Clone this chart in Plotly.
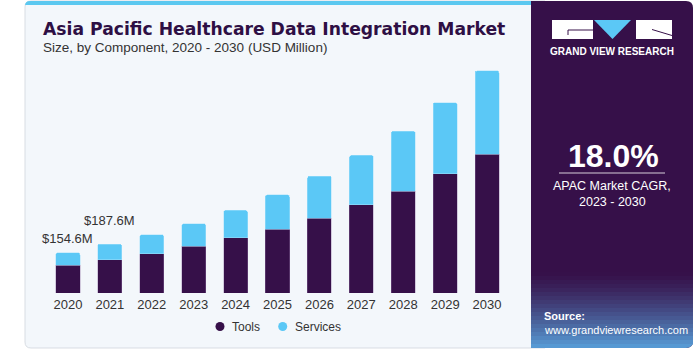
import plotly.graph_objects as go

years = [str(y) for y in range(2020, 2031)]
tools = [105.8, 127.5, 149.4, 178.5, 210.7, 245.0, 287.0, 338.0, 389.0, 456.0, 532.0]
services = [48.8, 60.1, 73.9, 86.9, 105.7, 131.5, 161.0, 189.0, 231.0, 273.0, 319.0]
series_names = ["Tools", "Services"]
label_years = ["2020", "2021"]
label_texts = ["$154.6M", "$187.6M"]
label_shift = [5, 14]

W, H = 700, 349
L, R, T, B = 47, 192, 60, 56
PW, PH = W - L - R, H - T - B
M_PER_PX = 3.83


def px(x):
    return (x - L) / PW


def py(y):
    return (H - B - y) / PH


def rrect(x0, y0, x1, y1, rtl=0, rtr=0, rbr=0, rbl=0):
    def p(x, y):
        return f"{px(x):.5f},{py(y):.5f}"
    s = f"M {p(x0 + rtl, y0)} L {p(x1 - rtr, y0)} "
    if rtr:
        s += f"Q {p(x1, y0)} {p(x1, y0 + rtr)} "
    s += f"L {p(x1, y1 - rbr)} "
    if rbr:
        s += f"Q {p(x1, y1)} {p(x1 - rbr, y1)} "
    s += f"L {p(x0 + rbl, y1)} "
    if rbl:
        s += f"Q {p(x0, y1)} {p(x0, y1 - rbl)} "
    s += f"L {p(x0, y0 + rtl)} "
    if rtl:
        s += f"Q {p(x0, y0)} {p(x0 + rtl, y0)} "
    return s + "Z"


PURPLE = "#361049"
BLUE = "#5bc8f6"
FONT = "Liberation Sans, Arial, sans-serif"
colors = [PURPLE, BLUE]

fig = go.Figure()
fig.add_trace(go.Bar(x=years, y=tools, name=series_names[0],
                     marker=dict(color=PURPLE, line=dict(color="rgba(150,120,170,0.6)", width=0.6))))
fig.add_trace(go.Bar(x=years, y=services, name=series_names[1],
                     marker=dict(color=BLUE, line=dict(color="rgba(170,225,250,0.8)", width=0.6))))

shapes = []
# card
shapes.append(dict(type="path", xref="paper", yref="paper", path=rrect(25, 1, 545, 348, 6, 0, 0, 6),
                   fillcolor="#f3f7fb", line=dict(color="#d8dde3", width=1), layer="below"))
# top blue stripe
shapes.append(dict(type="path", xref="paper", yref="paper", path=rrect(25, 1, 545, 5, 5, 0, 0, 0),
                   fillcolor="#5bc8f0", line=dict(width=0), layer="below"))
# right panel
shapes.append(dict(type="path", xref="paper", yref="paper", path=rrect(531, 1, 693, 348, 0, 7, 7, 0),
                   fillcolor=PURPLE, line=dict(width=0), layer="below"))
# bottom gradient of panel
c0 = (0x36, 0x10, 0x49)
c1 = (0x58, 0x9e, 0xd8)
y_start, y_end = 272, 348
n = 19
step = (y_end - y_start) / n
for i in range(n):
    t = (i + 0.5) / n
    t = t ** 1.3
    col = tuple(int(c0[k] + (c1[k] - c0[k]) * t) for k in range(3))
    ya = y_start + i * step
    yb = ya + step + 0.6
    if i == n - 1:
        shapes.append(dict(type="path", xref="paper", yref="paper", path=rrect(531, ya, 693, 348, 0, 0, 7, 0),
                           fillcolor="rgb(%d,%d,%d)" % col, line=dict(width=0), layer="below"))
    else:
        shapes.append(dict(type="rect", xref="paper", yref="paper", x0=px(531), x1=px(693), y0=py(yb), y1=py(ya),
                           fillcolor="rgb(%d,%d,%d)" % col, line=dict(width=0), layer="below"))
# logo
shapes.append(dict(type="rect", xref="paper", yref="paper", x0=px(552), x1=px(593), y0=py(39), y1=py(20),
                   fillcolor="white", line=dict(width=0), layer="below"))
shapes.append(dict(type="path", xref="paper", yref="paper",
                   path=f"M {px(594)},{py(20)} L {px(631)},{py(20)} L {px(612.5)},{py(39)} Z",
                   fillcolor=BLUE, line=dict(width=0), layer="below"))
shapes.append(dict(type="rect", xref="paper", yref="paper", x0=px(636), x1=px(672), y0=py(39), y1=py(20),
                   fillcolor="white", line=dict(width=0), layer="below"))
shapes.append(dict(type="path", xref="paper", yref="paper",
                   path=f"M {px(593)},{py(30)} L {px(568)},{py(30)} L {px(568)},{py(35)}",
                   line=dict(color=PURPLE, width=1), layer="below"))
shapes.append(dict(type="path", xref="paper", yref="paper",
                   path=f"M {px(652)},{py(29.5)} L {px(672)},{py(35.5)}",
                   line=dict(color=PURPLE, width=1), layer="below"))
# underline below CAGR
shapes.append(dict(type="line", xref="paper", yref="paper", x0=px(559), x1=px(665), y0=py(173), y1=py(173),
                   line=dict(color="rgba(255,255,255,0.8)", width=1)))

# legend (drawn manually for exact spacing)
legend_marker_x = [220, 282.7]
legend_y = 326.5
for cx, col in zip(legend_marker_x, colors):
    shapes.append(dict(type="circle", xref="paper", yref="paper", x0=px(cx - 4.5), x1=px(cx + 4.5),
                       y0=py(legend_y + 4.5), y1=py(legend_y - 4.5), fillcolor=col, line=dict(width=0)))

annotations = [
    dict(text="<b>Asia Pacific Healthcare Data Integration Market</b>", x=px(41), y=py(29), xanchor="left", yanchor="middle",
         font=dict(family="DejaVu Sans", size=17.2, color="#2e0f44")),
    dict(text="Size, by Component, 2020 - 2030 (USD Million)", x=px(41), y=py(47.5), xanchor="left", yanchor="middle",
         font=dict(family=FONT, size=13.5, color="#333333")),
    dict(text="<b>GRAND VIEW RESEARCH</b>", x=px(612), y=py(51), xanchor="center", yanchor="middle",
         font=dict(family=FONT, size=10, color="white")),
    dict(text="<b>18.0%</b>", x=px(613), y=py(156), xanchor="center", yanchor="middle",
         font=dict(family=FONT, size=32, color="white")),
    dict(text="APAC Market CAGR,", x=px(612), y=py(185.5), xanchor="center", yanchor="middle",
         font=dict(family=FONT, size=12.5, color="white")),
    dict(text="2023 - 2030", x=px(612), y=py(202), xanchor="center", yanchor="middle",
         font=dict(family=FONT, size=12.5, color="white")),
    dict(text="<b>Source:</b>", x=px(542), y=py(316), xanchor="left", yanchor="middle",
         font=dict(family=FONT, size=11, color="white")),
    dict(text="www.grandviewresearch.com", x=px(542), y=py(330), xanchor="left", yanchor="middle",
         font=dict(family=FONT, size=11, color="white")),
]
for cx, name in zip(legend_marker_x, series_names):
    annotations.append(dict(text=name, x=px(cx + 10), y=py(legend_y), xanchor="left", yanchor="middle",
                            font=dict(family=FONT, size=12, color="#333333")))
for a in annotations:
    a.update(xref="paper", yref="paper", showarrow=False)

totals = {y: t + s for y, t, s in zip(years, tools, services)}
for ly, lt, sh in zip(label_years, label_texts, label_shift):
    annotations.append(dict(text=lt, x=years.index(ly), y=totals[ly], xref="x", yref="y", xanchor="center",
                            yanchor="bottom", yshift=sh, showarrow=False,
                            font=dict(family=FONT, size=13, color="#333333")))

fig.update_layout(
    width=W, height=H,
    margin=dict(l=L, r=R, t=T, b=B, pad=0),
    paper_bgcolor="white",
    plot_bgcolor="rgba(0,0,0,0)",
    barmode="stack",
    bargap=0.425,
    barcornerradius=2,
    showlegend=False,
    xaxis=dict(type="category", categoryorder="array", categoryarray=years, range=[-0.5, len(years) - 0.5],
               showgrid=False, zeroline=False, showline=False, ticks="", ticklabelstandoff=2,
               tickfont=dict(family=FONT, size=13, color="#333333"), fixedrange=True),
    yaxis=dict(range=[0, PH * M_PER_PX], visible=False, showgrid=False, zeroline=False, fixedrange=True),
    shapes=shapes,
    annotations=annotations,
)

fig.write_html("out.html")
